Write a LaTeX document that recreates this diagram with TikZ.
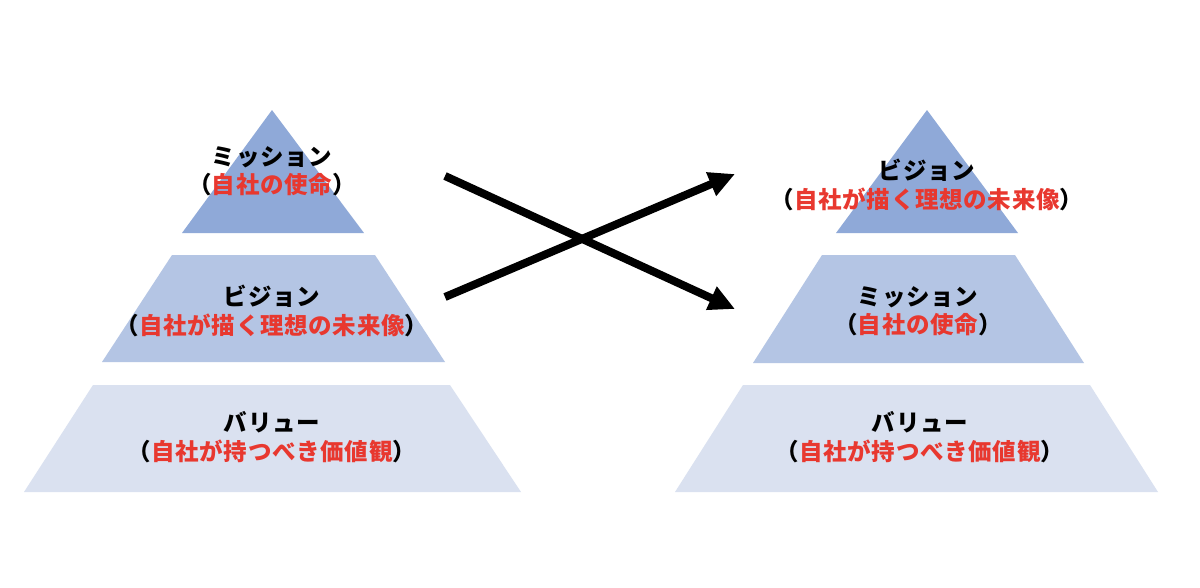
\documentclass[tikz,border=0pt]{standalone}
\usepackage{fontspec}
\newfontfamily\jp{Noto Sans CJK JP}[LetterSpace=3]
\usetikzlibrary{arrows.meta}
\definecolor{lvA}{HTML}{8FA9D8}
\definecolor{lvB}{HTML}{B4C5E4}
\definecolor{lvC}{HTML}{DAE1F0}
\definecolor{redtxt}{HTML}{E8382F}
\tikzset{
  lbl/.style={align=center, font=\jp\bfseries\fontsize{23.5}{28.5}\selectfont, inner sep=0pt, text=black},
  cross/.style={line width=8pt, -{Triangle[length=26pt,width=24pt]}}
}
\newcommand{\rt}[1]{（\textcolor{redtxt}{#1}）}
\begin{document}
\begin{tikzpicture}[x=1pt,y=-1pt]
\useasboundingbox (0,0) rectangle (1200,587);
\fill[white] (0,0) rectangle (1200,587);
% left pyramid
\fill[lvA] (272,110) -- (364,233) -- (182,233) -- cycle;
\fill[lvB] (172,255) -- (375,255) -- (445,362) -- (102,362) -- cycle;
\fill[lvC] (93,385) -- (450,385) -- (521,492) -- (24,492) -- cycle;
% right pyramid
\fill[lvA] (927,110) -- (1018,233) -- (836,233) -- cycle;
\fill[lvB] (822,255) -- (1015,255) -- (1084,363) -- (753,363) -- cycle;
\fill[lvC] (743,385) -- (1090,385) -- (1158,492) -- (675,492) -- cycle;
% labels
\node[lbl] (l1) at (272,171) {ミッション\\\rt{自社の使命}};
\node[lbl] (l2) at (272,311) {ビジョン\\\rt{自社が描く理想の未来像}};
\node[lbl] (l3) at (272,437) {バリュー\\\rt{自社が持つべき価値観}};
\node[lbl] (r1) at (927,185) {ビジョン\\\rt{自社が描く理想の未来像}};
\node[lbl] (r2) at (918,311) {ミッション\\\rt{自社の使命}};
\node[lbl] (r3) at (920,437) {バリュー\\\rt{自社が持つべき価値観}};
% arrows
\coordinate (s1) at (445,176);
\coordinate (e1) at (735,309);
\coordinate (s2) at (445,297);
\coordinate (e2) at (735,174);
\draw[cross] (s1) -- (e1);
\draw[cross] (s2) -- (e2);
\end{tikzpicture}
\end{document}
